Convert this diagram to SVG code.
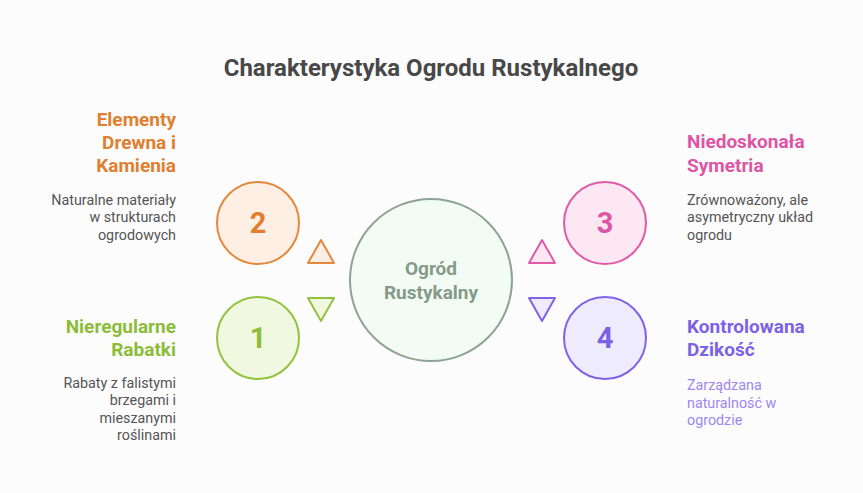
<svg xmlns="http://www.w3.org/2000/svg" width="863" height="493" viewBox="0 0 863 493">
<style>
text{font-family:Roboto,"Liberation Sans",sans-serif}
.title{font-size:24px;font-weight:700;fill:#484848}
.h{font-size:19px;font-weight:700}
.d{font-size:14.3px;fill:#555}
.num{font-size:29px;font-weight:700}
.cen{font-size:19px;font-weight:700;fill:#869a8a}
.c{stroke-width:2}
.t{stroke-width:2;stroke-linejoin:round}
</style>
<rect width="863" height="493" fill="#fcfcfc"/>
<text class="title" x="431" y="76" text-anchor="middle">Charakterystyka Ogrodu Rustykalnego</text>
<g id="center">
<circle cx="431" cy="280" r="81" fill="#f2fcf4" stroke="#8ea393" stroke-width="2"/>
<text class="cen" x="431" y="275" text-anchor="middle">Ogród</text>
<text class="cen" x="431" y="299" text-anchor="middle">Rustykalny</text>
</g>
<g id="connectors">
<polygon class="t" points="321,240 334,263 308,263" fill="#fdefe4" stroke="#e3883c"/>
<polygon class="t" points="308,298 334,298 321,321" fill="#f0f8df" stroke="#93c23f"/>
<polygon class="t" points="542,240 555,263 529,263" fill="#fde7f3" stroke="#e05aa8"/>
<polygon class="t" points="529,298 555,298 542,321" fill="#eeebfd" stroke="#7e63e6"/>
</g>
<g id="node2">
<circle class="c" cx="258" cy="223" r="41" fill="#fdefe4" stroke="#e3883c"/>
<text class="num" x="258" y="233" text-anchor="middle" fill="#e07f30">2</text>
<text class="h" text-anchor="end" fill="#e07f30"><tspan x="176" y="126">Elementy</tspan><tspan x="176" y="149">Drewna i</tspan><tspan x="176" y="172">Kamienia</tspan></text>
<text class="d" text-anchor="end"><tspan x="176" y="205">Naturalne materiały</tspan><tspan x="176" y="222">w strukturach</tspan><tspan x="176" y="240">ogrodowych</tspan></text>
</g>
<g id="node1">
<circle class="c" cx="258" cy="338" r="41" fill="#f0f8df" stroke="#93c23f"/>
<text class="num" x="258" y="348" text-anchor="middle" fill="#8cbc38">1</text>
<text class="h" text-anchor="end" fill="#8cbc38"><tspan x="176" y="333">Nieregularne</tspan><tspan x="176" y="356">Rabatki</tspan></text>
<text class="d" text-anchor="end"><tspan x="176" y="388">Rabaty z falistymi</tspan><tspan x="176" y="405">brzegami i</tspan><tspan x="176" y="423">mieszanymi</tspan><tspan x="176" y="440">roślinami</tspan></text>
</g>
<g id="node3">
<circle class="c" cx="605" cy="223" r="41" fill="#fde7f3" stroke="#e05aa8"/>
<text class="num" x="605" y="233" text-anchor="middle" fill="#dd55a5">3</text>
<text class="h" fill="#dd55a5"><tspan x="687" y="148">Niedoskonała</tspan><tspan x="687" y="172">Symetria</tspan></text>
<text class="d"><tspan x="687" y="205">Zrównoważony, ale</tspan><tspan x="687" y="222">asymetryczny układ</tspan><tspan x="687" y="240">ogrodu</tspan></text>
</g>
<g id="node4">
<circle class="c" cx="605" cy="338" r="41" fill="#eeebfd" stroke="#7e63e6"/>
<text class="num" x="605" y="348" text-anchor="middle" fill="#7b62e4">4</text>
<text class="h" fill="#7b62e4"><tspan x="687" y="333">Kontrolowana</tspan><tspan x="687" y="356">Dzikość</tspan></text>
<text class="d" style="fill:#9d88f2"><tspan x="687" y="390">Zarządzana</tspan><tspan x="687" y="408">naturalność w</tspan><tspan x="687" y="425">ogrodzie</tspan></text>
</g>
</svg>
